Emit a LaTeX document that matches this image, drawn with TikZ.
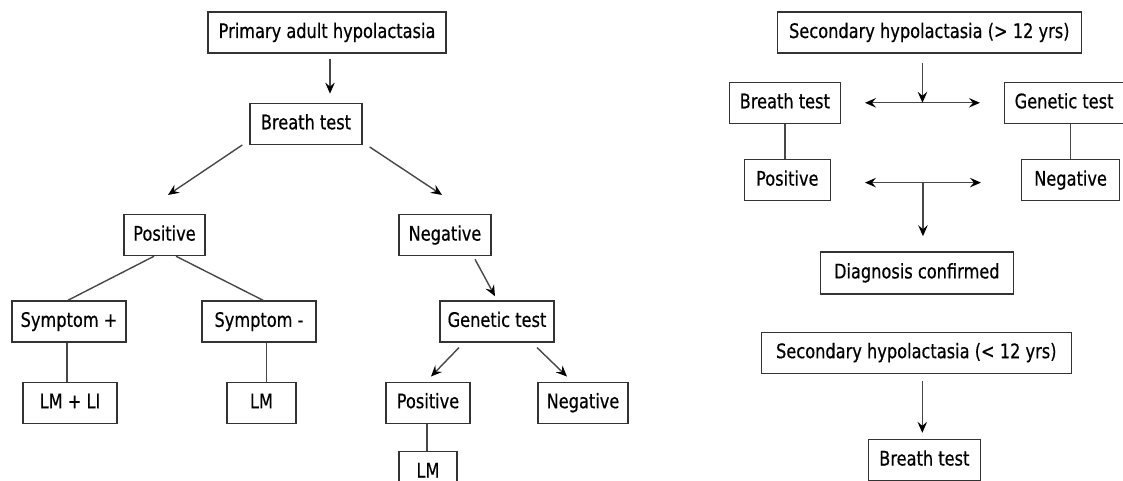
\documentclass[tikz,border=0pt]{standalone}
\usepackage{fontspec}
\setmainfont{DejaVu Sans}[FakeStretch=0.81, FakeBold=0.5]
\usetikzlibrary{arrows.meta,positioning,calc}

\begin{document}
\begin{tikzpicture}[x=1pt, y=1pt, block/.style = {rectangle, draw=black!80,
			line width=1.3pt, minimum height=41pt, inner sep=2pt, text height=15pt,
			text depth=4pt, text=black, font=\fontsize{20}{24}\selectfont},
		line/.style = {draw=black!72, line width=1.4pt},
		arrow/.style = {line, -{Stealth[length=11pt, width=9.5pt, inset=4pt, color=black]}},
		twoarrow/.style = {line, {Stealth[length=11pt, width=9.5pt, inset=4pt,
							color=black]}-{Stealth[length=11pt, width=9.5pt, inset=4pt, color=black]}}
	]

	\useasboundingbox (0,0) rectangle (1123,-481);

	% Nodes (primary)
	\node [block, minimum width=238pt] (PA) at (327,-32.5) {Primary adult hypolactasia};
	\node [block, minimum width=112pt, below=49pt of PA, xshift=-21pt] (BT) {Breath test};
	\node [block, minimum width=81pt, below=69pt of BT, xshift=-141.5pt] (PosL) {Positive};
	\node [block, minimum width=92pt, below=69pt of BT, xshift=139pt] (NegL) {Negative};
	\node [block, minimum width=114pt, below=44pt of PosL, xshift=-95.5pt] (SP) {Symptom +};
	\node [block, minimum width=114pt, below=44pt of PosL, xshift=94.5pt] (SM) {Symptom -};
	\node [block, minimum width=94pt, below=39pt of SP, xshift=1pt] (LMLI) {LM + LI};
	\node [block, minimum width=69pt, below=39pt of SM, xshift=2.5pt] (LMa) {LM};
	\node [block, minimum width=114pt, below=44pt of NegL, xshift=52pt] (GT) {Genetic test};
	\node [block, minimum width=84pt, below=39pt of GT, xshift=-69pt] (GP) {Positive};
	\node [block, minimum width=90pt, below=39pt of GT, xshift=86pt] (GN) {Negative};
	\node [block, minimum width=58pt, below=27pt of GP] (LMb) {LM};

	% Arrows (primary)
	\draw [arrow] ($(PA.south)+(3,-5)$) -- ($(PA.south |- BT.north)+(3,9)$);
	\draw [arrow] ($(BT.south west)+(-7,0)$) -- ($(PosL.north)+(3.5,19)$);
	\draw [arrow] ($(BT.south east)+(7,-2)$) -- ($(NegL.north)+(-3,19)$);
	\draw [line] ($(PosL.south)+(-10.5,0)$) -- ($(SP.north)+(-1,0)$);
	\draw [line] ($(PosL.south)+(11.5,0)$) -- ($(SM.north)+(4,0)$);
	\draw [line] ($(SP.south)+(-2,0)$) -- ($(SP.south |- LMLI.north)+(-2,0)$);
	\draw [line] ($(SM.south)+(7.5,0)$) -- ($(SM.south |- LMa.north)+(7.5,0)$);
	\draw [arrow] ($(NegL.south)+(30,-3)$) -- ($(GT.north)+(-2,4)$);
	\draw [arrow] ($(GT.south)+(-38,-5)$) -- ($(GP.north)+(3,5)$);
	\draw [arrow] ($(GT.south)+(40,-5)$) -- ($(GN.north)+(-16,5)$);
	\draw [line] ($(GP.south)+(-1,0)$) -- ($(GP.south |- LMb.north)+(-1,0)$);

	% Nodes (secondary)
	\node [block, minimum width=304pt, right=330pt of PA] (SA) {Secondary hypolactasia (> 12 yrs)};
	\node [block, minimum width=111pt, below=28pt of SA, xshift=-144.5pt] (BTa) {Breath test};
	\node [block, minimum width=119pt, right=163pt of BTa] (GTa) {Genetic test};
	\node [block, minimum width=86pt, below=35pt of BTa, xshift=2.5pt] (PR) {Positive};
	\node [block, minimum width=98pt, below=35pt of GTa, xshift=6.5pt] (NR) {Negative};
	\node [block, minimum width=193pt, minimum height=42pt, below=50pt of PR,
		xshift=129.5pt] (DC) {Diagnosis confirmed};
	\node [block, minimum width=310pt, below=37pt of DC, xshift=-0.5pt] (SB) {Secondary hypolactasia (< 12 yrs)};
	\node [block, minimum width=112pt, below=65pt of SB, xshift=8pt] (BTb) {Breath test};

	% Arrows (secondary)
	\coordinate (J1) at ($(BTa.east)!0.5!(GTa.west)$);
	\draw [twoarrow] ($(BTa.east)+(24,0)$) -- ($(GTa.west)+(-24,0)$);
	\draw [arrow] ($(SA.south -| J1)+(0,-9)$) -- (J1);
	\draw [line] (BTa.south) -- (BTa.south |- PR.north);
	\draw [line] (NR.north |- GTa.south) -- (NR.north);

	\coordinate (J2) at ($(PR.east)!0.5!(NR.west)+(-3,-2.5)$);
	\draw [twoarrow] ($(PR.east)+(34,-2.5)$) -- ($(NR.west)+(-40,-2.5)$);
	\draw [arrow] (J2) -- ($(J2 |- DC.north)+(0,15)$);
	\draw [arrow] ($(SB.south)+(6,-7)$) -- ($(SB.south |- BTb.north)+(6,6)$);
\end{tikzpicture}
\end{document}
